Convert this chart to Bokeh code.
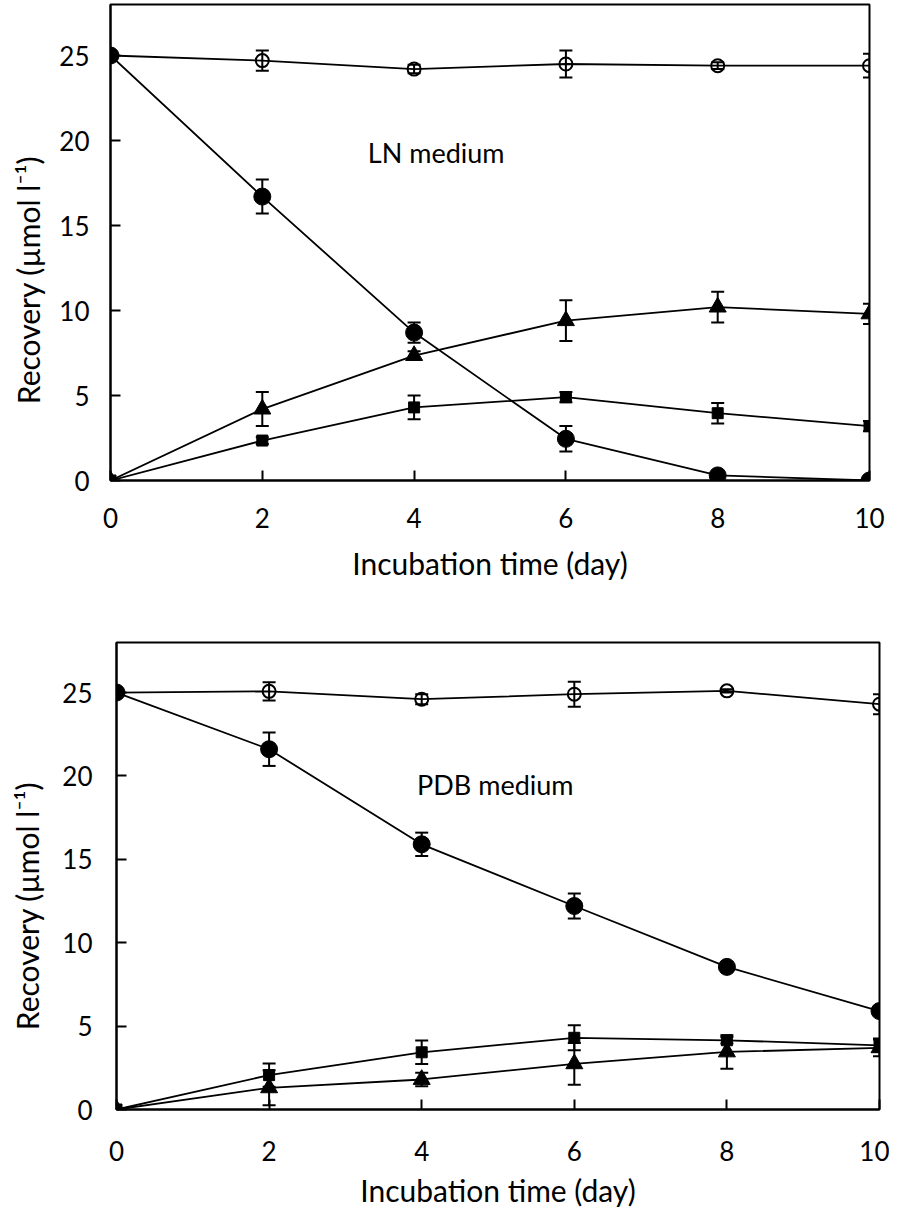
from bokeh.plotting import figure
from bokeh.models import ColumnDataSource, Whisker, TeeHead, FixedTicker, Label, Range1d
from bokeh.embed import file_html
from bokeh.resources import INLINE

days = [0, 2, 4, 6, 8, 10]
x_ticks = [0, 2, 4, 6, 8, 10]
y_ticks = [0, 5, 10, 15, 20, 25]

# LN medium
ln_open = [25.0, 24.7, 24.2, 24.5, 24.4, 24.4]
ln_open_err = [0.0, 0.6, 0.25, 0.8, 0.2, 0.7]
ln_filled = [25.0, 16.7, 8.7, 2.45, 0.3, 0.0]
ln_filled_err = [0.0, 1.0, 0.6, 0.75, 0.1, 0.05]
ln_tri = [0.0, 4.2, 7.35, 9.4, 10.2, 9.8]
ln_tri_err = [0.0, 1.0, 0.25, 1.2, 0.9, 0.6]
ln_sq = [0.0, 2.35, 4.3, 4.9, 3.96, 3.2]
ln_sq_err = [0.0, 0.2, 0.7, 0.3, 0.6, 0.3]

# PDB medium
pdb_open = [25.0, 25.07, 24.6, 24.9, 25.1, 24.3]
pdb_open_err = [0.0, 0.55, 0.3, 0.75, 0.1, 0.6]
pdb_filled = [25.0, 21.6, 15.9, 12.2, 8.55, 5.9]
pdb_filled_err = [0.0, 1.0, 0.7, 0.75, 0.15, 0.2]
pdb_sq = [0.0, 2.06, 3.43, 4.3, 4.15, 3.85]
pdb_sq_err = [0.0, 0.7, 0.7, 0.75, 0.2, 0.4]
pdb_tri = [0.0, 1.3, 1.8, 2.74, 3.45, 3.7]
pdb_tri_err = [0.0, 1.05, 0.4, 1.25, 1.0, 0.5]

FONT = "Lato"
Y_TITLE = "Recovery (\u00b5mol l\u207b\u00b9)"
X_TITLE = "Incubation time (day)"


def make_panel(series, label_text, label_xy, geom):
    (w, h, bl, br, bt, bb, ytop, tick_fs, title_fs, std_y, std_x,
     xt_std, yt_std, pad) = geom
    p = figure(width=w, height=h, output_backend="svg", toolbar_location=None,
               x_range=Range1d(0, 10), y_range=Range1d(0, ytop),
               min_border_left=bl, min_border_right=br, min_border_top=bt, min_border_bottom=bb)
    p.grid.visible = False
    p.outline_line_color = "black"
    p.outline_line_width = 2
    p.outline_line_alpha = 1
    p.background_fill_color = "white"
    p.border_fill_color = "white"

    p.xaxis.ticker = FixedTicker(ticks=x_ticks)
    p.yaxis.ticker = FixedTicker(ticks=y_ticks)
    for ax in (p.xaxis[0], p.yaxis[0]):
        ax.axis_line_color = "black"
        ax.axis_line_width = 2
        ax.major_tick_line_color = "black"
        ax.major_tick_line_width = 2
        ax.major_tick_in = 10
        ax.major_tick_out = 0
        ax.minor_tick_line_color = None
        ax.major_label_text_font = FONT
        ax.major_label_text_font_size = tick_fs
        ax.major_label_text_color = "black"
        ax.axis_label_text_font = FONT
        ax.axis_label_text_font_size = title_fs
        ax.axis_label_text_font_style = "normal"
        ax.axis_label_text_color = "black"
    p.yaxis.major_label_standoff = std_y
    p.xaxis.major_label_standoff = std_x
    p.xaxis.axis_label = X_TITLE
    p.xaxis.axis_label_standoff = xt_std
    # trailing en spaces shift the visible title downward, as in the original
    p.yaxis.axis_label = Y_TITLE + "\u2002" * pad
    p.yaxis.axis_label_standoff = yt_std

    p.add_layout(Label(x=label_xy[0], y=label_xy[1], text=label_text, text_align="left",
                       text_baseline="middle", text_font=FONT, text_font_size="27px",
                       text_color="black"))

    for vals, errs, marker in series:
        src = ColumnDataSource(dict(x=days, y=vals,
                                    upper=[v + e for v, e in zip(vals, errs)],
                                    lower=[v - e for v, e in zip(vals, errs)]))
        p.line("x", "y", source=src, line_color="black", line_width=1.8)
        wk = Whisker(source=src, base="x", upper="upper", lower="lower", dimension="height",
                     line_color="black", line_width=2,
                     upper_head=TeeHead(size=13, line_color="black", line_width=2),
                     lower_head=TeeHead(size=13, line_color="black", line_width=2))
        p.add_layout(wk)
        if marker == "open":
            p.scatter("x", "y", source=src, marker="circle", size=13, fill_alpha=0,
                      line_color="black", line_width=2)
        elif marker == "filled":
            p.scatter("x", "y", source=src, marker="circle", size=17, fill_color="black",
                      line_color="black")
        elif marker == "tri":
            p.scatter("x", "y", source=src, marker="triangle", size=17, fill_color="black",
                      line_color="black")
        else:
            p.scatter("x", "y", source=src, marker="square", size=11, fill_color="black",
                      line_color="black")
    return p


p1 = make_panel(
    [(ln_open, ln_open_err, "open"), (ln_filled, ln_filled_err, "filled"),
     (ln_tri, ln_tri_err, "tri"), (ln_sq, ln_sq_err, "sq")],
    "LN medium", (3.39, 19.3),
    (889, 600, 110, 20, 4, 120, 28.0, "26px", "30px", 21, 27, 14, 10, 5))
p2 = make_panel(
    [(pdb_open, pdb_open_err, "open"), (pdb_filled, pdb_filled_err, "filled"),
     (pdb_sq, pdb_sq_err, "sq"), (pdb_tri, pdb_tri_err, "tri")],
    "PDB medium", (3.94, 19.47),
    (889, 610, 116, 10, 42, 92, 28.0, "26px", "30px", 24, 31, 8, 14, 4))

open("out.html", "w").write(file_html([p1, p2], INLINE))
